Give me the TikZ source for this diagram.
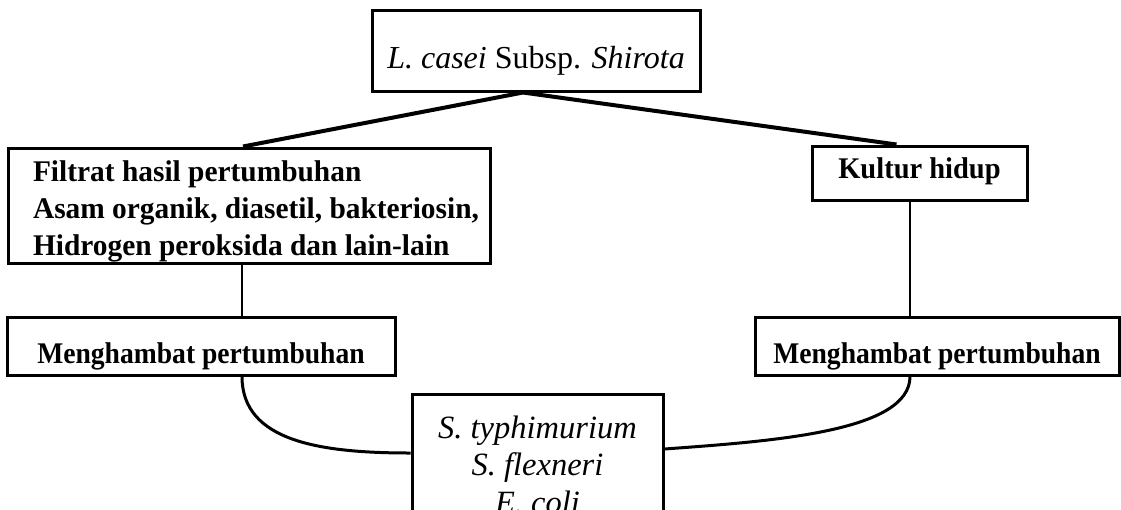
\documentclass[tikz,border=0pt]{standalone}
\usepackage{fontspec}
\setmainfont{Liberation Serif}
\newfontfamily\lblfont{Liberation Serif}[FakeStretch=0.92]
\newfontfamily\lblfontwide{Liberation Serif}[FakeStretch=0.98]
\newfontfamily\lblfontmid{Liberation Serif}[FakeStretch=0.95]
\begin{document}
\begin{tikzpicture}[x=1pt,y=-1pt,
  box/.style={draw,line width=3pt,rectangle,inner sep=0pt},
  boldlbl/.style={font=\lblfont\bfseries\fontsize{30}{37}\selectfont},
  link/.style={line width=2.5pt},
  thicklink/.style={line width=4pt},
  curvelink/.style={line width=3pt}]
\useasboundingbox (0,0) rectangle (1121,509);
\clip (0,0) rectangle (1121,509);
\fill[white] (0,0) rectangle (1121,509);
% nodes
\node[box,minimum width=328pt,minimum height=81pt,text height=35pt,text depth=0pt,font=\fontsize{32}{38}\selectfont] (top) at (536,50.5) {\textit{L. casei} Subsp. \textit{Shirota}};
\node[box,minimum width=482pt,minimum height=115pt,font=\lblfontwide\bfseries\fontsize{30}{37}\selectfont] (filtrat) at (249,205.5) {\raisebox{-6pt}[\height][\depth]{\begin{tabular}{@{\hspace{14pt}}l@{}}Filtrat hasil pertumbuhan\\Asam organik, diasetil, bakteriosin,\\Hidrogen peroksida dan lain-lain\end{tabular}}};
\node[box,minimum width=215pt,minimum height=54pt,text height=10pt,text depth=0pt,font=\lblfontmid\bfseries\fontsize{30}{37}\selectfont] (kultur) at (919.5,173) {Kultur hidup};
\node[box,boldlbl,minimum width=388pt,minimum height=58pt,text height=34pt,text depth=0pt] (mL) at (201,346) {Menghambat pertumbuhan};
\node[box,boldlbl,minimum width=364pt,minimum height=58pt,text height=34pt,text depth=0pt] (mR) at (937,346) {Menghambat pertumbuhan};
\node[box,minimum width=251pt,minimum height=140pt,anchor=north,align=center,font=\itshape\fontsize{32.5}{37.5}\selectfont] (bot) at (537.5,393) {S. typhimurium\\S. flexneri\\E. coli};
% junction under the top box
\coordinate (j) at ([xshift=-13pt]top.south);
% connectors
\draw[thicklink] (j) -- ([xshift=-6pt]filtrat.north);
\draw[thicklink] (j) -- ([xshift=-23pt]kultur.north);
\draw[link] ([xshift=-7pt]filtrat.south) -- ([xshift=-7pt]filtrat.south |- mL.north);
\draw[link] ([xshift=-9.5pt]kultur.south) -- ([xshift=-9.5pt]kultur.south |- mR.north);
\draw[curvelink] ([xshift=-7pt]filtrat.south |- mL.south) .. controls ++(0,65) and ++(-90,0) .. ([yshift=-60pt]bot.north west);
\draw[curvelink] ([xshift=-9.5pt]kultur.south |- mR.south) .. controls ++(0,55) and ++(110,-8) .. ([yshift=-56pt]bot.north east);
\end{tikzpicture}
\end{document}
